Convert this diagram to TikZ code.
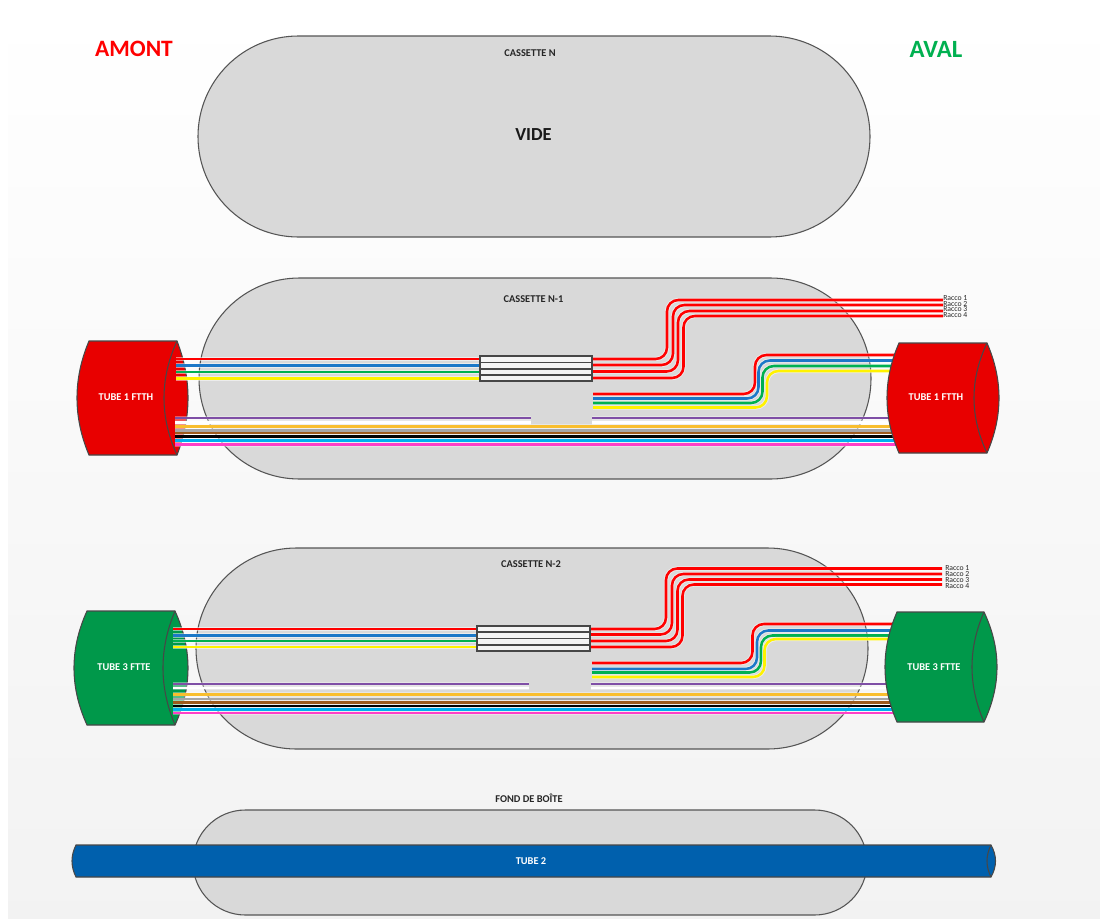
\documentclass[tikz,border=0pt]{standalone}
\usepackage{fontspec}
\setmainfont{Carlito}
\definecolor{pillfill}{HTML}{D9D9D9}
\definecolor{pilldraw}{HTML}{555555}
\definecolor{tubered}{HTML}{E80000}
\definecolor{tubegreen}{HTML}{00984A}
\definecolor{tubeblue}{HTML}{0060AD}
\definecolor{fred}{HTML}{FF0000}
\definecolor{fblue}{HTML}{1C78C8}
\definecolor{fgreen}{HTML}{00B050}
\definecolor{fyellow}{HTML}{FFF200}
\definecolor{fpurple}{HTML}{7F4FA6}
\definecolor{forange}{HTML}{F9BE2E}
\definecolor{fgrey}{HTML}{A6A6A6}
\definecolor{fbrown}{HTML}{9C5A1C}
\definecolor{fcyan}{HTML}{00B0F0}
\definecolor{fpink}{HTML}{FF3FC8}
\definecolor{aval}{HTML}{00B050}
\tikzset{
  pill/.style={draw=pilldraw,fill=pillfill,line width=.8pt},
  fib/.style={draw=#1,line width=1.9pt,line cap=butt,preaction={draw=white,draw opacity=.5,line width=3.2pt}},
  fibhalo/.style={draw=white,draw opacity=.35,line width=3.2pt},
  fibcore/.style={draw=#1,line width=1.9pt},
  fibrebend/.style={rounded corners=8.5pt},
  tubeline/.style={draw=black!72,line width=.8pt},
  splice/.style={draw=black!72,fill=white!96!black,line width=.9pt},
  splicesep/.style={draw=black!72,line width=.9pt},
  lab/.style={inner sep=0pt,font=\fontsize{7.8}{9}\selectfont\bfseries,text=black!85},
  tubelab/.style={inner sep=0pt,font=\fontsize{7.8}{9}\selectfont\bfseries,text=white},
  racco/.style={anchor=west,inner sep=0pt,font=\fontsize{5.8}{6}\selectfont,text=black!85},
}
% xl xr yt yb leftbulge rightbulge innerbulge colour
\newcommand{\tubeshape}[8]{%
  \pgfmathsetmacro{\tubeh}{(#4-#3)/3}%
  \pgfmathsetmacro{\tya}{#3+\tubeh}%
  \pgfmathsetmacro{\tyb}{#4-\tubeh}%
  \pgfmathsetmacro{\tcl}{#1+(#5-#1)*4/3}%
  \pgfmathsetmacro{\tcr}{#2+(#6-#2)*4/3}%
  \pgfmathsetmacro{\tci}{#2+(#7-#2)*4/3}%
  \path[tubeline,fill=#8] (#1,#3) -- (#2,#3) .. controls (\tcr,\tya) and (\tcr,\tyb) .. (#2,#4) -- (#1,#4) .. controls (\tcl,\tyb) and (\tcl,\tya) .. (#1,#3) -- cycle;
  \path[tubeline] (#2,#3) .. controls (\tci,\tya) and (\tci,\tyb) .. (#2,#4);
}
\begin{document}
\begin{tikzpicture}[x=.75pt,y=-.75pt]
\useasboundingbox (0,0) rectangle (1100,918);
\fill[white] (0,0) rectangle (1100,918);
\shade[top color=white,bottom color=black!5] (8,8) rectangle (1100,918);

\node[inner sep=0pt,font=\fontsize{17.6}{20}\selectfont\bfseries,text=fred] (amont) at (134,49) {AMONT};
\node[inner sep=0pt,font=\fontsize{18.6}{20}\selectfont\bfseries,text=aval] (aval) at (936,49) {AVAL};

% ---------- Cassette N
\draw[pill,rounded corners=75.3pt] (198,36) rectangle (870,237);
\node[lab] (cn) at (530,53.5) {CASSETTE N};
\node[inner sep=0pt,font=\fontsize{13.8}{16}\selectfont\bfseries,text=black!90] (vide) at (533.5,135) {VIDE};

% ---------- Cassette N-1
\draw[pill,rounded corners=75.3pt] (199,278) rectangle (871,479);
\node[lab] (cn1) at (533.5,299) {CASSETTE N-1};
\tubeshape{89}{177}{341}{455}{77}{188}{164}{tubered}
\foreach \y/\c in {359/fred,365.5/fblue,372/fgreen,378.5/fyellow}
  \draw[fib=\c] (176,\y) -- (480,\y);
\foreach \ya/\xa/\yb/\c in {359/667/300/fred,365/673/305/fred,371.5/678/311/fred,378/683.5/316/fred}
  \draw[fib=\c,fibrebend] (592,\ya) -- (\xa,\ya) -- (\xa,\yb) -- (943,\yb);
\foreach \ya/\xa/\yb/\c in {394/755/355/fred,398.5/758.5/360.5/fblue,403/762.5/366/fgreen,407.5/767/371/fyellow}
  \draw[fib=\c,fibrebend] (593,\ya) -- (\xa,\ya) -- (\xa,\yb) -- (900,\yb);
\foreach \y in {418,422.5}{
  \draw[fibhalo] (175,\y) -- (531,\y);
  \draw[fibhalo] (592,\y) -- (900,\y);
}
\foreach \y in {426.5,430.5,433,436.5,440.5,444.5}
  \draw[fibhalo] (175,\y) -- (900,\y);
\foreach \y/\c in {422.5/white,418/fpurple}{
  \draw[fibcore=\c] (175,\y) -- (531,\y);
  \draw[fibcore=\c] (592,\y) -- (900,\y);
}
\foreach \y/\c in {430.5/fgrey,426.5/forange,433/fbrown,436.5/black,440.5/fcyan,444.5/fpink}
  \draw[fibcore=\c] (175,\y) -- (900,\y);
\draw[splice] (480,356) rectangle (592,381);
\foreach \y in {362.5,369,375}
  \draw[splicesep] (480,\y) -- (592,\y);
\tubeshape{899}{987}{343}{453}{887}{999}{974}{tubered}
\node[tubelab] (t1l) at (126,397) {TUBE 1 FTTH};
\node[tubelab] (t1r) at (936,397) {TUBE 1 FTTH};
\foreach \i/\y in {1/298.5,2/304,3/309.5,4/315}
  \node[racco] (ra\i) at (943,\y) {Racco \i};

% ---------- Cassette N-2
\draw[pill,rounded corners=75.3pt] (196,548) rectangle (868,749);
\node[lab] (cn2) at (531,564) {CASSETTE N-2};
\tubeshape{87}{175}{611}{725}{74}{188}{163}{tubegreen}
\foreach \y/\c in {629/fred,635.5/fblue,641/fgreen,647/fyellow}
  \draw[fib=\c] (173,\y) -- (477,\y);
\foreach \ya/\xa/\yb/\c in {629/666/568.5/fred,634.5/672/574/fred,641/677.5/579.5/fred,647/682.5/584.5/fred}
  \draw[fib=\c,fibrebend] (590,\ya) -- (\xa,\ya) -- (\xa,\yb) -- (942,\yb);
\foreach \ya/\xa/\yb/\c in {663/752.5/624/fred,669/757/630.5/fblue,672.5/761/635.5/fgreen,677/764.5/639/fyellow}
  \draw[fib=\c,fibrebend] (592,\ya) -- (\xa,\ya) -- (\xa,\yb) -- (898,\yb);
\foreach \y in {684,688}{
  \draw[fibhalo] (173,\y) -- (529,\y);
  \draw[fibhalo] (591,\y) -- (898,\y);
}
\foreach \y in {694.5,699,702.5,706,709.5,713}
  \draw[fibhalo] (173,\y) -- (898,\y);
\foreach \y/\c in {688/white,684/fpurple}{
  \draw[fibcore=\c] (173,\y) -- (529,\y);
  \draw[fibcore=\c] (591,\y) -- (898,\y);
}
\foreach \y/\c in {699/fgrey,694.5/forange,702.5/fbrown,706/black,709.5/fcyan,713/fpink}
  \draw[fibcore=\c] (173,\y) -- (898,\y);
\draw[splice] (477,626) rectangle (590,651);
\foreach \y in {632,638.5,645}
  \draw[splicesep] (477,\y) -- (590,\y);
\tubeshape{897}{984}{612}{722}{885}{997}{972}{tubegreen}
\node[tubelab] (t3l) at (124,667) {TUBE 3 FTTE};
\node[tubelab] (t3r) at (934,667) {TUBE 3 FTTE};
\foreach \i/\y in {1/568,2/574,3/580,4/586}
  \node[racco] (rb\i) at (945,\y) {Racco \i};

% ---------- Fond de boite
\node[lab] (fond) at (529,798) {FOND DE BOÎTE};
\draw[pill,rounded corners=39.3pt] (193,810) rectangle (867,915);
\tubeshape{76}{991}{845}{877}{72}{995.5}{987}{tubeblue}
\node[tubelab] (t2) at (531,861) {TUBE 2};
\end{tikzpicture}
\end{document}
